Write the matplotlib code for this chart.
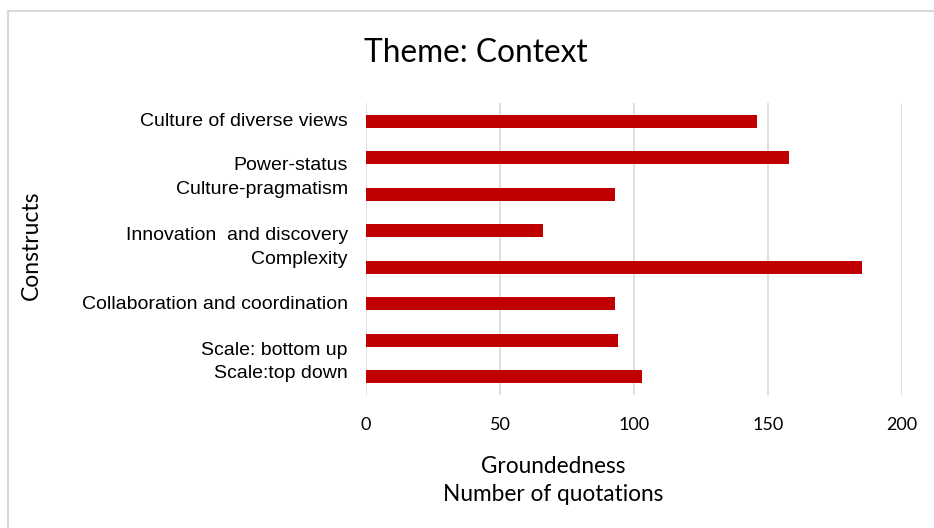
import matplotlib
matplotlib.use("Agg")
import matplotlib.pyplot as plt
import matplotlib.transforms as mtransforms
from matplotlib.lines import Line2D

# ================= Data =================
constructs = [
    "Culture of diverse views",
    "Power-status",
    "Culture-pragmatism",
    "Innovation  and discovery",
    "Complexity",
    "Collaboration and coordination",
    "Scale: bottom up",
    "Scale:top down",
]
quotations = [146, 158, 93, 66, 185, 93, 94, 103]
x_ticks = [0, 50, 100, 150, 200]
# label nudges (points) - the original labels sit a bit off their bars
label_nudge = [1.5, -4.5, 4.8, -2, 6.7, 0.7, -6, 3.6]
# ========================================

BAR_RED = "#C00000"
GRID_GREY = "#D9D9D9"

fig = plt.figure(figsize=(9.34, 5.28), dpi=100)
ax = fig.add_axes([366 / 934, 1 - 395 / 528, 536 / 934, 292 / 528])

ypos = list(range(len(constructs)))
ax.barh(ypos, quotations, height=0.35, color=BAR_RED, zorder=3)

ax.set_ylim(len(constructs) - 0.5, -0.5)
ax.set_xlim(0, 200)
ax.set_xticks(x_ticks)
ax.set_xticklabels([str(t) for t in x_ticks], family="Lato", fontsize=13)
ax.set_yticks(ypos)
ax.set_yticklabels(constructs, family="Liberation Sans", fontsize=14)
ax.tick_params(axis="both", length=0)
ax.tick_params(axis="x", pad=16)
ax.tick_params(axis="y", pad=13)

for lbl, dy in zip(ax.get_yticklabels(), label_nudge):
    off = mtransforms.ScaledTranslation(0, dy / 72, fig.dpi_scale_trans)
    lbl.set_transform(lbl.get_transform() + off)

ax.grid(axis="x", color=GRID_GREY, linewidth=1.2, zorder=0)
ax.grid(axis="y", visible=False)
for s in ax.spines.values():
    s.set_visible(False)

ax.set_xlabel("Groundedness\nNumber of quotations", family="Lato", fontsize=16.3,
              linespacing=1.4)
ax.xaxis.set_label_coords(0.349, -0.21)
ax.set_ylabel("Constructs", family="Lato", fontsize=16.5)
ax.yaxis.set_label_coords(-0.605, 0.514)

fig.text(476 / 934, 1 - 53 / 528, "Theme: Context", family="Lato", fontsize=22.8,
         ha="center", va="center")

# outer chart frame (top and left edges visible in the crop)
fig.add_artist(Line2D([8 / 934, 8 / 934], [0, 1 - 11 / 528], transform=fig.transFigure,
                      color="#D9D9D9", linewidth=1.5))
fig.add_artist(Line2D([8 / 934, 1], [1 - 11 / 528, 1 - 11 / 528], transform=fig.transFigure,
                      color="#D9D9D9", linewidth=1.5))

fig.savefig("out.png", dpi=100)
